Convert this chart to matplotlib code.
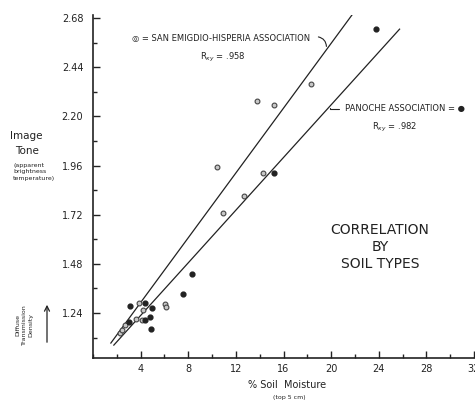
import numpy as np
import matplotlib
matplotlib.use("Agg")
import matplotlib.pyplot as plt
from matplotlib.ticker import MultipleLocator, FixedLocator

# San Emigdio-Hisperia association (open circles)
se_x = [2.3, 2.44, 2.67, 3.6, 3.9, 4.1, 4.2, 6.06, 6.1, 10.4, 10.9, 12.7, 13.8, 14.25, 15.2, 18.3]
se_y = [1.143, 1.155, 1.181, 1.212, 1.287, 1.204, 1.253, 1.285, 1.269, 1.953, 1.726, 1.813, 2.275, 1.925, 2.257, 2.357]

# Panoche association (filled dots)
pa_x = [3.06, 3.08, 4.33, 4.4, 4.8, 4.86, 4.94, 7.53, 8.33, 15.2, 23.8]
pa_y = [1.197, 1.274, 1.287, 1.204, 1.22, 1.164, 1.262, 1.334, 1.432, 1.924, 2.625]

# regression lines (end points)
se_line_x = [1.5, 21.75]
se_line_y = [1.093, 2.695]
pa_line_x = [1.75, 25.75]
pa_line_y = [1.083, 2.626]

y_ticks = [1.24, 1.48, 1.72, 1.96, 2.20, 2.44, 2.68]
x_ticks = [4, 8, 12, 16, 20, 24, 28, 32]

fig = plt.figure(figsize=(4.75, 4.01), dpi=100)
ax = fig.add_axes([93 / 475, 43 / 401, 381 / 475, 343 / 401])
ax.set_xlim(0, 32)
ax.set_ylim(1.02, 2.695)

ink = "#222222"
ax.plot(se_line_x, se_line_y, color=ink, lw=0.9)
ax.plot(pa_line_x, pa_line_y, color=ink, lw=0.9)
ax.scatter(se_x, se_y, s=12, facecolors="#c8c8c8", edgecolors="#444444", linewidths=0.8, zorder=3)
ax.scatter(pa_x, pa_y, s=12, color="#222222", zorder=3)

for s in ["top", "right"]:
    ax.spines[s].set_visible(False)
for s in ["left", "bottom"]:
    ax.spines[s].set_color(ink)
    ax.spines[s].set_linewidth(1.2)

ax.xaxis.set_major_locator(FixedLocator(x_ticks))
ax.xaxis.set_minor_locator(MultipleLocator(2))
ax.yaxis.set_major_locator(FixedLocator(y_ticks))
ax.yaxis.set_minor_locator(FixedLocator([t - 0.12 for t in y_ticks]))
ax.set_yticklabels(["%.2f" % t for t in y_ticks])
ax.tick_params(which="both", direction="in", color=ink, labelsize=7, labelcolor=ink)
ax.tick_params(which="major", length=5, width=1)
ax.tick_params(which="minor", length=3, width=1)
ax.tick_params(axis="y", pad=7)
ax.tick_params(axis="x", pad=4)

fs = 6
# San Emigdio legend
fig.text(132 / 475, 1 - 38 / 401, "\u25ce = SAN EMIGDIO-HISPERIA ASSOCIATION", fontsize=fs, color=ink, va="center")
fig.text(200 / 475, 1 - 57 / 401, r"R$_{xy}$ = .958", fontsize=fs, color=ink, va="center")
ax.annotate("", xy=(19.6, 2.528), xytext=(18.7, 2.59),
            arrowprops=dict(arrowstyle="-", color=ink, lw=0.8, connectionstyle="arc3,rad=-0.5"))
# Panoche legend
fig.text(345 / 475, 1 - 108 / 401, "PANOCHE ASSOCIATION = \u25cf", fontsize=fs, color=ink, va="center")
fig.text(372 / 475, 1 - 127 / 401, r"R$_{xy}$ = .982", fontsize=fs, color=ink, va="center")
ax.annotate("", xy=(19.9, 2.254), xytext=(20.9, 2.236),
            arrowprops=dict(arrowstyle="-", color=ink, lw=0.8, connectionstyle="angle,angleA=0,angleB=90,rad=0"))

fig.text(380 / 475, 1 - 247 / 401, "CORRELATION\nBY\nSOIL TYPES", fontsize=10, color=ink,
         ha="center", va="center", linespacing=1.3)

# y label block
fig.text(10 / 475, 1 - 136 / 401, "Image", fontsize=7.5, color=ink, va="center")
fig.text(15 / 475, 1 - 151 / 401, "Tone", fontsize=7.5, color=ink, va="center")
fig.text(13 / 475, 1 - 172 / 401, "(apparent\nbrightness\ntemperature)", fontsize=4.5, color=ink,
         va="center", linespacing=1.4)
fig.text(24 / 475, 1 - 325 / 401, "Diffuse\nTransmission\nDensity", fontsize=4.5, color=ink,
         va="center", ha="center", rotation=90, linespacing=1.4)
fig.patches.append(matplotlib.patches.FancyArrowPatch((47 / 475, 1 - 345 / 401), (47 / 475, 1 - 302 / 401),
                   transform=fig.transFigure, arrowstyle="->", mutation_scale=9, color=ink, lw=0.9))

# x label
fig.text(287 / 475, 1 - 385 / 401, "% Soil  Moisture", fontsize=7, color=ink, ha="center", va="center")
fig.text(289 / 475, 1 - 397 / 401, "(top 5 cm)", fontsize=4.5, color=ink, ha="center", va="center")

fig.savefig("out.png", dpi=100, facecolor="white")
